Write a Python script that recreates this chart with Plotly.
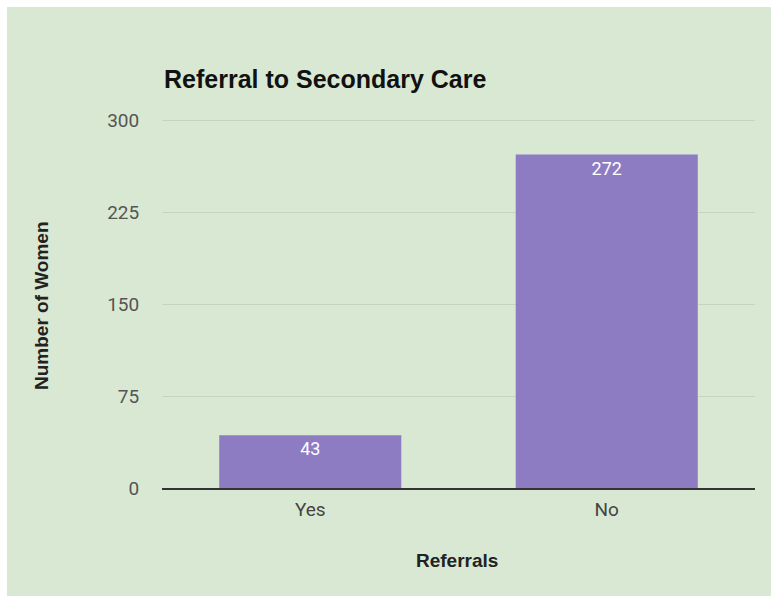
import plotly.graph_objects as go

# Chart data
categories = ["Yes", "No"]
women_counts = [43, 272]
y_ticks = [0, 75, 150, 225, 300]

W, H = 771, 596
ML, MR, MT, MB = 162, 16, 119, 108
PW, PH = W - ML - MR, H - MT - MB

BG = "#d9e8d3"
BAR = "#8e7cc3"
TICK_FONT = "Roboto, Arial, sans-serif"
HEAD_FONT = "Arial, Liberation Sans, sans-serif"


def px_x(px):
    return (px - ML) / PW


def px_y(py):
    return (H - MB - py) / PH


fig = go.Figure(
    go.Bar(
        x=categories,
        y=women_counts,
        marker=dict(color=BAR, line=dict(width=0)),
        text=[str(v) for v in women_counts],
        textposition="inside",
        insidetextanchor="end",
        textfont=dict(family=TICK_FONT, size=18, color="white"),
        cliponaxis=False,
    )
)

fig.update_layout(
    width=W,
    height=H,
    margin=dict(l=ML, r=MR, t=MT, b=MB, pad=0),
    paper_bgcolor="white",
    plot_bgcolor=BG,
    bargap=0.386,
    showlegend=False,
    shapes=[
        dict(
            type="rect",
            xref="paper",
            yref="paper",
            x0=px_x(7),
            x1=px_x(W + 2),
            y0=px_y(H + 2),
            y1=px_y(7),
            fillcolor=BG,
            line=dict(width=0),
            layer="below",
        )
    ],
    annotations=[
        dict(
            text="<b>Referral to Secondary Care</b>",
            xref="paper",
            yref="paper",
            x=px_x(162),
            y=px_y(79),
            xanchor="left",
            yanchor="middle",
            showarrow=False,
            font=dict(family=HEAD_FONT, size=25, color="#111"),
        ),
        dict(
            text="<b>Referrals</b>",
            xref="paper",
            yref="paper",
            x=px_x(457),
            y=px_y(560),
            xanchor="center",
            yanchor="middle",
            showarrow=False,
            font=dict(family=HEAD_FONT, size=19, color="#222"),
        ),
        dict(
            text="<b>Number of Women</b>",
            xref="paper",
            yref="paper",
            x=px_x(41),
            y=px_y(306),
            xanchor="center",
            yanchor="middle",
            textangle=-90,
            showarrow=False,
            font=dict(family=HEAD_FONT, size=19, color="#222"),
        ),
    ],
)

fig.update_xaxes(
    tickfont=dict(family=TICK_FONT, size=19, color="#444"),
    showline=True,
    linecolor="#333",
    linewidth=1.5,
    ticks="outside",
    ticklen=3,
    tickcolor="rgba(0,0,0,0)",
    showgrid=False,
)

fig.update_yaxes(
    range=[0, 301],
    tickvals=y_ticks,
    ticktext=[str(v) for v in y_ticks],
    tickfont=dict(family=TICK_FONT, size=19, color="#555"),
    showgrid=True,
    gridcolor="#c4d4be",
    gridwidth=1,
    zeroline=False,
    ticks="outside",
    ticklen=18,
    tickcolor="rgba(0,0,0,0)",
    showline=False,
)

fig.write_html("out.html")
